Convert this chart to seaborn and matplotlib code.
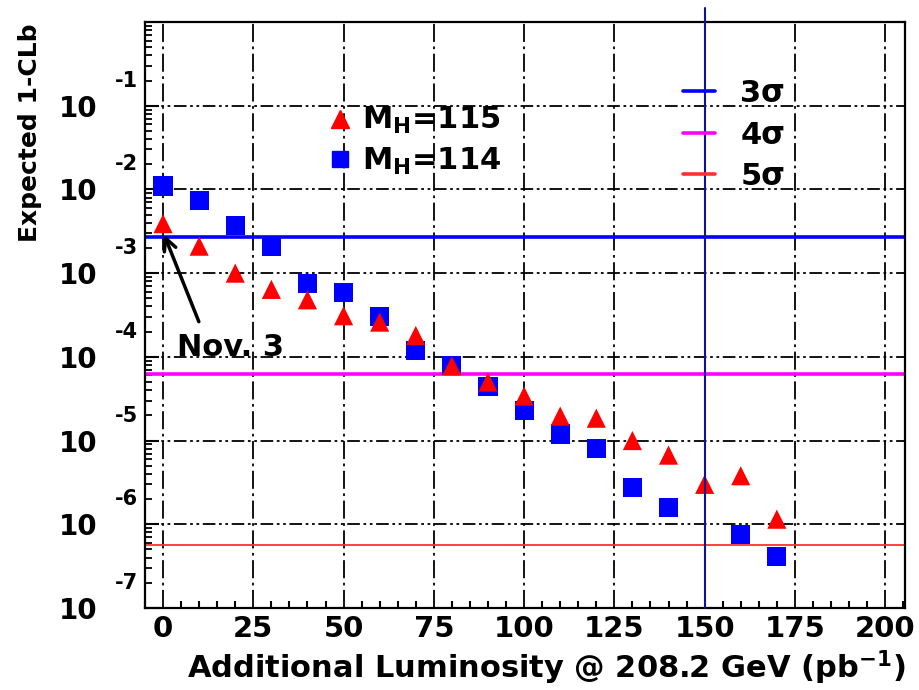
import numpy as np
import pandas as pd
import matplotlib
matplotlib.use("Agg")
import matplotlib.pyplot as plt
from matplotlib.lines import Line2D
from matplotlib.ticker import LogLocator, MultipleLocator, NullFormatter
import seaborn as sns

# expected 1-CLb vs additional luminosity
lumi_114 = [0, 10, 20, 30, 40, 50, 60, 70, 80, 90, 100, 110, 120, 130, 140, 160, 170]
clb_114 = [1.1e-2, 7.3e-3, 3.7e-3, 2.1e-3, 7.6e-4, 5.9e-4, 3.0e-4, 1.2e-4, 7.9e-5,
           4.4e-5, 2.3e-5, 1.2e-5, 8.1e-6, 2.75e-6, 1.6e-6, 7.6e-7, 4.1e-7]
lumi_115 = [0, 10, 20, 30, 40, 50, 60, 70, 80, 90, 100, 110, 120, 130, 140, 150, 160, 170]
clb_115 = [3.9e-3, 2.1e-3, 1.0e-3, 6.4e-4, 4.8e-4, 3.1e-4, 2.6e-4, 1.8e-4, 7.8e-5,
           5.0e-5, 3.4e-5, 1.96e-5, 1.85e-5, 1.0e-5, 6.7e-6, 3.0e-6, 3.8e-6, 1.15e-6]

sigma_labels = ["3σ", "4σ", "5σ"]
sigma_levels = [2.7e-3, 6.3e-5, 5.7e-7]
sigma_colors = ["#0000ff", "#ff00ff", "#ff3030"]
sigma_widths = [2.6, 2.6, 1.3]

x_ticks = [0, 25, 50, 75, 100, 125, 150, 175, 200]
y_exponents = [-1, -2, -3, -4, -5, -6, -7]

df = pd.concat([
    pd.DataFrame({"lumi": lumi_114, "clb": clb_114, "mass": "114"}),
    pd.DataFrame({"lumi": lumi_115, "clb": clb_115, "mass": "115"}),
], ignore_index=True)

sns.set_style("white", {"xtick.direction": "in", "ytick.direction": "in",
                        "axes.edgecolor": "black", "text.color": "black",
                        "xtick.color": "black", "ytick.color": "black",
                        "axes.labelcolor": "black"})
plt.rcParams["font.family"] = ["DejaVu Sans"]
plt.rcParams["font.weight"] = "bold"
plt.rcParams["mathtext.fontset"] = "custom"
plt.rcParams["mathtext.rm"] = "DejaVu Sans:bold"
plt.rcParams["mathtext.it"] = "DejaVu Sans:bold"
plt.rcParams["mathtext.bf"] = "DejaVu Sans:bold"

fig = plt.figure(figsize=(9.2, 6.9), dpi=100)
ax = fig.add_axes([145 / 920, 1 - 608 / 690, 760 / 920, 586 / 690])

# grid
ax.set_axisbelow(True)
ax.xaxis.grid(True, color="black", lw=1.3, linestyle=(0, (10, 2.5, 1.5, 2.5)))
ax.yaxis.grid(True, which="major", color="black", lw=1.3,
              linestyle=(0, (7, 2, 1.5, 2, 1.5, 2)))

# sigma levels
for lev, col, lw in zip(sigma_levels, sigma_colors, sigma_widths):
    ax.axhline(lev, color=col, lw=lw, zorder=2)

sns.scatterplot(data=df, x="lumi", y="clb", hue="mass", style="mass",
                palette={"114": "#0000ff", "115": "#ff0000"},
                markers={"114": "s", "115": "^"},
                s=190, linewidth=0, legend=False, ax=ax, zorder=3)

ax.axvline(150, ymin=0, ymax=(608 - 8) / 586, color="#10109a", lw=1.5,
           clip_on=False, zorder=4)

ax.set_yscale("log")
ax.set_xlim(-5, 205.5)
ax.set_ylim(1e-7, 1)

ax.set_xticks(x_ticks)
ax.set_xticklabels([str(t) for t in x_ticks], fontsize=21, fontweight="bold")
ax.xaxis.set_minor_locator(MultipleLocator(5))
ax.set_yticks([10.0 ** e for e in y_exponents])
ax.set_yticklabels(["10"] * len(y_exponents), fontsize=20, fontweight="bold")
ax.yaxis.set_minor_locator(LogLocator(base=10, subs=np.arange(2, 10)))
ax.yaxis.set_minor_formatter(NullFormatter())
ax.tick_params(axis="x", which="major", length=0, pad=5)
ax.tick_params(axis="x", which="minor", length=5, width=1.5, bottom=True)
ax.tick_params(axis="y", which="major", length=10, width=1.5, pad=34, left=True)
ax.tick_params(axis="y", which="minor", length=5, width=1.3, left=True)
for sp in ax.spines.values():
    sp.set_linewidth(1.6)
    sp.set_color("black")
ax.set_xlabel("")
ax.set_ylabel("")

for e in y_exponents:
    ax.annotate(str(e), xy=(0, 10.0 ** e), xycoords=("axes fraction", "data"),
                xytext=(-7, 25), textcoords="offset pixels", ha="right", va="center",
                fontsize=15, fontweight="bold", annotation_clip=False)

# Nov. 3 arrow
ax.annotate("", xy=(0, 3.1e-3), xytext=(10.2, 2.45e-4),
            arrowprops=dict(arrowstyle="->", lw=2.5, color="black",
                            mutation_scale=22))
ax.text(3.8, 1.3e-4, "Nov. 3", fontsize=22, fontweight="bold", va="center", ha="left")

# legends
mass_handles = [Line2D([], [], marker="^", color="#ff0000", ls="", ms=13),
                Line2D([], [], marker="s", color="#0000ff", ls="", ms=12)]
leg1 = ax.legend(mass_handles, ["M$_{H}$=115", "M$_{H}$=114"], loc="upper left",
                 bbox_to_anchor=(0.237, 0.858), frameon=False, borderpad=0,
                 borderaxespad=0, handlelength=1.0, handletextpad=0.22,
                 labelspacing=0.3, prop={"size": 22, "weight": "bold"})
ax.add_artist(leg1)
sig_handles = [Line2D([], [], color=c, lw=2.6) for c in sigma_colors]
ax.legend(sig_handles, sigma_labels, loc="upper left", bbox_to_anchor=(0.708, 0.9025),
          frameon=False, borderpad=0, borderaxespad=0, handlelength=1.05,
          handletextpad=0.82, labelspacing=0.41, prop={"size": 22, "weight": "bold"})

fig.text(905 / 920, 1 - 668 / 690, "Additional Luminosity @ 208.2 GeV (pb$^{-1}$)",
         ha="right", va="center", fontsize=22, fontweight="bold")
fig.text(30 / 920, 1 - 24 / 690, "Expected 1-CLb", rotation=90, ha="center", va="top",
         fontsize=18, fontweight="bold")

fig.savefig("out.png", dpi=100, facecolor="white")
